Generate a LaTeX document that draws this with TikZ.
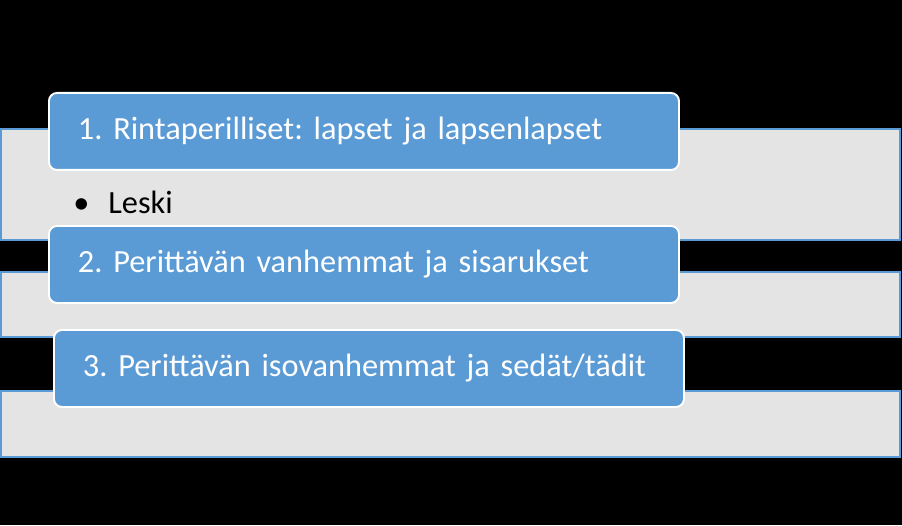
\documentclass[tikz,border=0pt]{standalone}
\usepackage{fontspec}
\setmainfont{Carlito}
\usepackage{tikz}
\usetikzlibrary{positioning}
\definecolor{tierblue}{RGB}{91,155,213}
\definecolor{tiergray}{RGB}{228,228,228}
\tikzset{
  band/.style={fill=tiergray,draw=tierblue,line width=1.1pt},
  tier/.style={rectangle,rounded corners=0.16cm,fill=tierblue,draw=white,line width=1.1pt,
    anchor=north west,minimum width=12.6cm,minimum height=1.54cm,text width=11.44cm,
    inner xsep=0.58cm,align=left,text=white,font=\fontsize{18.4}{22}\selectfont},
  item/.style={anchor=base west,inner sep=0pt,font=\fontsize{18.4}{22}\selectfont}
}
\frenchspacing
\begin{document}
\begin{tikzpicture}
%background
\fill[black](0,0)rectangle(18.04,10.5);
\useasboundingbox(0,0)rectangle(18.04,10.5);
%bands
\draw[band](0.02,7.92)rectangle(18.0,5.70);
\draw[band](0.02,5.06)rectangle(18.0,3.76);
\draw[band](0.02,2.68)rectangle(18.0,1.36);
%tiers
\node[tier](first)at(0.96,8.66){1. Rintaperilliset: lapset ja lapsenlapset};
\node[tier](second)at(0.96,6.0){2. Perittävän vanhemmat ja sisarukset};
\node[tier](third)at(1.06,3.92){3. Perittävän isovanhemmat ja sedät/tädit};
%bullet
\node[item](spouse)at(1.46,6.24){\makebox[0.7cm][l]{•}Leski};
\end{tikzpicture}
\end{document}
